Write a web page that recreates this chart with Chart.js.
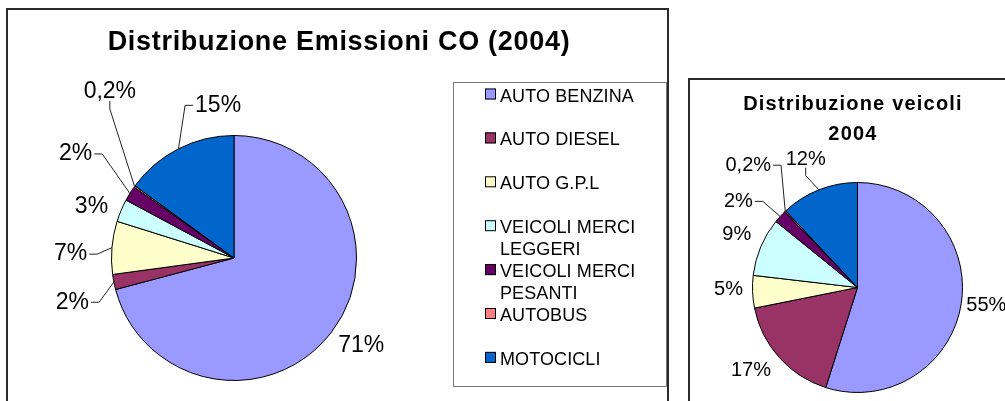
<!DOCTYPE html>
<html>
<head>
<meta charset="utf-8">
<script src="https://cdn.jsdelivr.net/npm/chart.js@4.4.0/dist/chart.umd.min.js"></script>
<style>
  html, body { margin: 0; padding: 0; background: #fff; overflow: hidden; }
  body { width: 1005px; height: 401px; position: relative; }
  .box { position: absolute; border: 2px solid #2a2a2a; background: #fff; }
  #boxCO { left: 6px; top: 8px; width: 659px; height: 400px; }
  #boxVeicoli { left: 688px; top: 78px; width: 330px; height: 340px; }
  canvas { display: block; }
</style>
</head>
<body>
<div class="box" id="boxCO"><canvas id="chartCO" width="659" height="391"></canvas></div>
<div class="box" id="boxVeicoli"><canvas id="chartVeicoli" width="315" height="321"></canvas></div>
<script>
const categories = ['AUTO BENZINA', 'AUTO DIESEL', 'AUTO G.P.L', 'VEICOLI MERCI LEGGERI', 'VEICOLI MERCI PESANTI', 'AUTOBUS', 'MOTOCICLI'];
const emissioniCO = [71, 2, 7, 3, 2, 0.2, 15];
const veicoli = [55, 17, 5, 9, 2, 0.2, 12];
const titleCO = ['Distribuzione Emissioni CO (2004)'];
const titleVeicoli = ['Distribuzione veicoli', '2004'];

// excel default palette
const COLORS = ['#9999FF', '#993366', '#FFFFCC', '#CCFFFF', '#660066', '#FF8080', '#0066CC'];
const FONT = "'Liberation Sans', Arial, sans-serif";

function wrapText(ctx, text, maxWidth) {
  const words = text.split(' ');
  let lines = [], line = '';
  words.forEach(w => {
    const test = line ? line + ' ' + w : w;
    if (line && ctx.measureText(test).width > maxWidth) {
      lines.push(line);
      line = w;
    } else {
      line = test;
    }
  });
  lines.push(line);
  return lines;
}

const titleText = {
  id: 'titleText',
  afterDraw(chart, args, opts) {
    const ctx = chart.ctx;
    ctx.save();
    ctx.font = 'bold ' + opts.size + 'px ' + FONT;
    ctx.letterSpacing = opts.spacing + 'px';
    ctx.textAlign = 'center';
    ctx.textBaseline = 'alphabetic';
    ctx.fillStyle = '#000';
    opts.lines.forEach((t, i) => ctx.fillText(t, opts.x, opts.y + i * opts.lineHeight));
    ctx.restore();
  }
};

// percent labels around the pie, with leader lines when they sit far from the slice
const pctLabels = {
  id: 'pctLabels',
  afterDatasetsDraw(chart, args, opts) {
    const ctx = chart.ctx;
    const meta = chart.getDatasetMeta(0);
    const values = chart.data.datasets[0].data;
    ctx.save();
    ctx.font = opts.size + 'px ' + FONT;
    ctx.fillStyle = '#000';
    ctx.strokeStyle = '#222';
    ctx.lineWidth = 1;
    ctx.textAlign = 'center';
    ctx.textBaseline = 'middle';
    meta.data.forEach((arc, i) => {
      const mid = (arc.startAngle + arc.endAngle) / 2;
      const [dA, dR] = opts.place[i];
      const a = mid + dA * Math.PI / 180;
      const d = arc.outerRadius + dR;
      const lx = arc.x + d * Math.cos(a);
      const ly = arc.y + d * Math.sin(a);
      const text = String(values[i]).replace('.', ',') + '%';
      ctx.fillText(text, lx, ly);

      const px = arc.x + arc.outerRadius * Math.cos(mid);
      const py = arc.y + arc.outerRadius * Math.sin(mid);
      const hw = ctx.measureText(text).width / 2 + 2;
      const hh = opts.size * 0.4;
      const gx = Math.max(0, Math.abs(px - lx) - hw);
      const gy = Math.max(0, Math.abs(py - ly) - hh);
      if (Math.hypot(gx, gy) < 15) return;
      let sx, sy, ex, ey;
      if (Math.abs(px - lx) > hw) {
        const s = Math.sign(px - lx);
        sx = lx + s * hw; sy = ly; ex = sx + s * 8; ey = sy;
      } else {
        const s = Math.sign(py - ly);
        sx = lx; sy = ly + s * hh; ex = sx; ey = sy + s * 8;
      }
      ctx.beginPath();
      ctx.moveTo(sx, sy);
      ctx.lineTo(ex, ey);
      ctx.lineTo(px, py);
      ctx.stroke();
    });
    ctx.restore();
  }
};

const boxLegend = {
  id: 'boxLegend',
  afterDraw(chart, args, opts) {
    if (!opts.show) return;
    const ctx = chart.ctx;
    const colors = chart.data.datasets[0].backgroundColor;
    ctx.save();
    ctx.strokeStyle = '#777';
    ctx.lineWidth = 1;
    ctx.strokeRect(opts.x + 0.5, opts.y + 0.5, opts.w, opts.h);
    ctx.font = opts.size + 'px ' + FONT;
    ctx.letterSpacing = opts.spacing + 'px';
    ctx.textAlign = 'left';
    ctx.textBaseline = 'alphabetic';
    chart.data.labels.forEach((label, i) => {
      const base = opts.y + opts.first + i * opts.step;
      const sx = opts.x + 32;
      ctx.fillStyle = colors[i];
      ctx.fillRect(sx, base - 13, 11, 11);
      ctx.strokeStyle = '#000';
      ctx.strokeRect(sx + 0.5, base - 12.5, 10, 10);
      ctx.fillStyle = '#000';
      wrapText(ctx, label, opts.maxWidth).forEach((ln, j) => {
        ctx.fillText(ln, opts.x + 47, base + j * opts.lineHeight);
      });
    });
    ctx.restore();
  }
};

function pieOptions(padding, title, labels, legend) {
  return {
    responsive: false,
    animation: false,
    events: [],
    layout: { padding: padding },
    plugins: {
      legend: { display: false },
      tooltip: { enabled: false },
      titleText: title,
      pctLabels: labels,
      boxLegend: legend
    }
  };
}

const chartCO = new Chart(document.getElementById('chartCO'), {
  type: 'pie',
  plugins: [titleText, pctLabels, boxLegend],
  data: {
    labels: categories,
    datasets: [{
      data: emissioniCO,
      backgroundColor: COLORS,
      borderColor: '#000',
      borderWidth: 1,
      hoverOffset: 0
    }]
  },
  options: pieOptions(
    { left: 103, top: 125, right: 310, bottom: 20 },
    { lines: titleCO, size: 27, spacing: 0.7, x: 331, y: 39.5, lineHeight: 30 },
    { size: 23, place: [[-3, 32], [-4, 45], [-3.5, 41], [-3, 29], [1.5, 67], [17.5, 85], [21, 31]] },
    { show: true, x: 445, y: 72, w: 213, h: 304, first: 19.5, step: 43.9, size: 18, spacing: 0.1, maxWidth: 160, lineHeight: 21.7 }
  )
});

const chartVeicoli = new Chart(document.getElementById('chartVeicoli'), {
  type: 'pie',
  plugins: [titleText, pctLabels, boxLegend],
  data: {
    labels: categories,
    datasets: [{
      data: veicoli,
      backgroundColor: COLORS,
      borderColor: '#000',
      borderWidth: 1,
      hoverOffset: 0
    }]
  },
  options: pieOptions(
    { left: 62, top: 102, right: 42, bottom: 8 },
    { lines: titleVeicoli, size: 20, spacing: 1.2, x: 163, y: 30, lineHeight: 30 },
    { size: 20, place: [[-1, 25], [4, 30], [1.5, 24], [1, 27], [-6.7, 42], [1.7, 59], [-0.5, 33]] },
    { show: false }
  )
});
</script>
</body>
</html>
